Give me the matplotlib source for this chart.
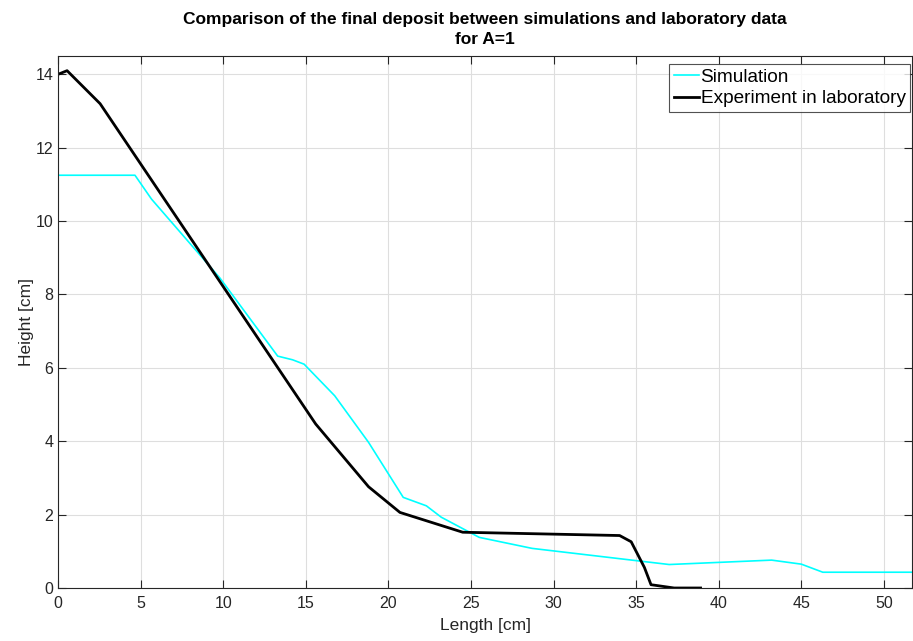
import matplotlib
matplotlib.use("Agg")
import matplotlib.pyplot as plt

plt.rcParams['font.family'] = ['Liberation Sans', 'DejaVu Sans']

# Simulation profile (length in cm, height in cm)
sim_x = [0.0, 4.66, 5.66, 9.8, 13.3, 14.2, 14.9, 16.75, 18.8, 20.9, 22.3, 23.2,
         25.5, 28.7, 37.0, 43.2, 45.0, 46.3, 51.7]
sim_h = [11.25, 11.25, 10.6, 8.45, 6.32, 6.22, 6.1, 5.24, 3.97, 2.47, 2.24, 1.93,
         1.38, 1.08, 0.64, 0.76, 0.65, 0.43, 0.43]

# Laboratory measurements
exp_x = [0.0, 0.55, 2.55, 15.6, 18.8, 20.7, 24.5, 34.0, 34.7, 35.5, 35.9, 37.3, 38.9]
exp_h = [14.0, 14.1, 13.2, 4.47, 2.76, 2.06, 1.52, 1.43, 1.26, 0.56, 0.09, 0.0, 0.0]

x_ticks = list(range(0, 55, 5))
y_ticks = list(range(0, 16, 2))

fig = plt.figure(figsize=(9.13, 6.41), dpi=100)
ax = fig.add_axes([58 / 913, 1 - 588 / 641, (912 - 58) / 913, (588 - 56) / 641])

ax.plot(sim_x, sim_h, color='#00FFFF', linewidth=1.2, label='Simulation')
ax.plot(exp_x, exp_h, color='black', linewidth=2.0, label='Experiment in laboratory')

ax.set_xlim(0, 51.7)
ax.set_ylim(0, 14.5)
ax.set_xticks(x_ticks)
ax.set_yticks(y_ticks)
ax.grid(True, color='#dedede', linewidth=0.8)
ax.set_axisbelow(True)

for s in ax.spines.values():
    s.set_color('#262626')
    s.set_linewidth(0.8)
ax.tick_params(direction='in', top=True, right=True, length=6, width=0.8,
               colors='#262626', labelsize=11.5, labelcolor='#262626')
ax.tick_params(axis='x', pad=6)

ax.set_xlabel('Length [cm]', fontsize=12.5, color='#262626', labelpad=5)
ax.set_ylabel('Height [cm]', fontsize=12.5, color='#262626', labelpad=1)
ax.set_title('Comparison of the final deposit between simulations and laboratory data\nfor A=1',
             fontsize=12.5, fontweight='bold', pad=9, linespacing=1.35)

leg = ax.legend(loc='upper right', fontsize=13.7, frameon=True, fancybox=False,
                edgecolor='#262626', handlelength=1.3, handletextpad=0.1,
                borderaxespad=0.0, borderpad=0.25, labelspacing=0.2,
                bbox_to_anchor=(0.998, 0.985))
leg.get_frame().set_linewidth(0.8)

fig.savefig('out.png', dpi=100)
